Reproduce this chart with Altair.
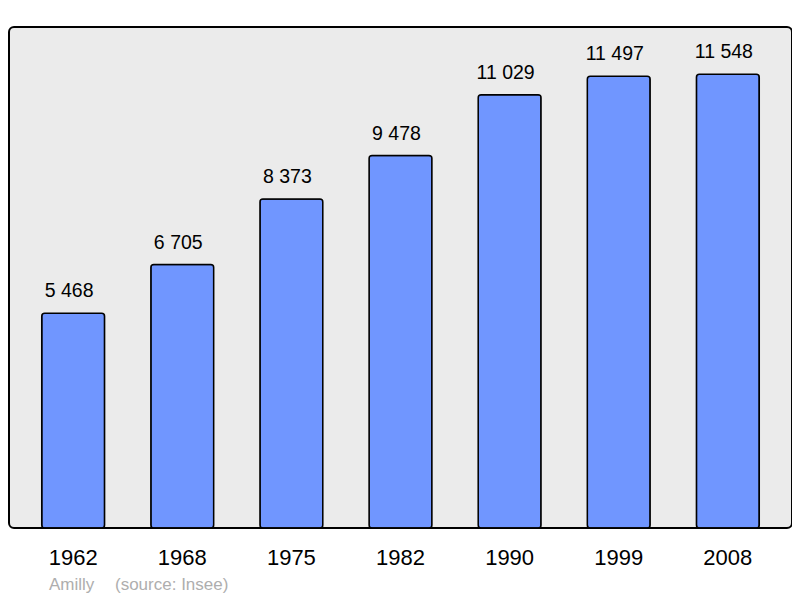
import altair as alt
import pandas as pd

years = ["1962", "1968", "1975", "1982", "1990", "1999", "2008"]
population = [5468, 6705, 8373, 9478, 11029, 11497, 11548]
labels = ["5 468", "6 705", "8 373", "9 478", "11 029", "11 497", "11 548"]

df = pd.DataFrame({"year": years, "pop": population, "label": labels})

FONT = "Liberation Sans"

x = alt.X("year:N", sort=years, title=None,
          scale=alt.Scale(paddingInner=0.424, paddingOuter=0.30),
          axis=alt.Axis(labelAngle=0, labelFontSize=22, labelFont=FONT, labelColor="black",
                        ticks=False, domain=False, labelPadding=36,
                        labelBaseline="alphabetic"))
y = alt.Y("pop:Q", title=None, scale=alt.Scale(domain=[0, 12750], nice=False),
          axis=None)

base = alt.Chart(df)

bars = base.mark_bar(color="#7096ff", stroke="black", strokeWidth=1.5,
                     cornerRadius=3).encode(x=x, y=y)

text = base.mark_text(fontSize=19.5, font=FONT, color="black", baseline="alphabetic",
                      dy=-16, dx=-4).encode(x=x, y=y, text="label:N")

footer = pd.DataFrame({"t": ["Amilly", "(source: Insee)"], "px": [40, 106]})
foot = alt.Chart(footer).mark_text(fontSize=17, font=FONT, color="#aeaeae",
                                   align="left", baseline="alphabetic").encode(
    x=alt.X("px:Q", scale=None), y=alt.value(563), text="t:N")

chart = alt.layer(bars, text, foot).properties(
    width=783, height=501,
    autosize=alt.AutoSizeParams(type="none"),
    padding={"left": 1, "top": 19, "right": 0, "bottom": 68},
).configure_view(fill="#ebebeb", stroke="black", strokeWidth=2, cornerRadius=5)

chart.save("out.html", embed_options={"renderer": "svg", "actions": False})
